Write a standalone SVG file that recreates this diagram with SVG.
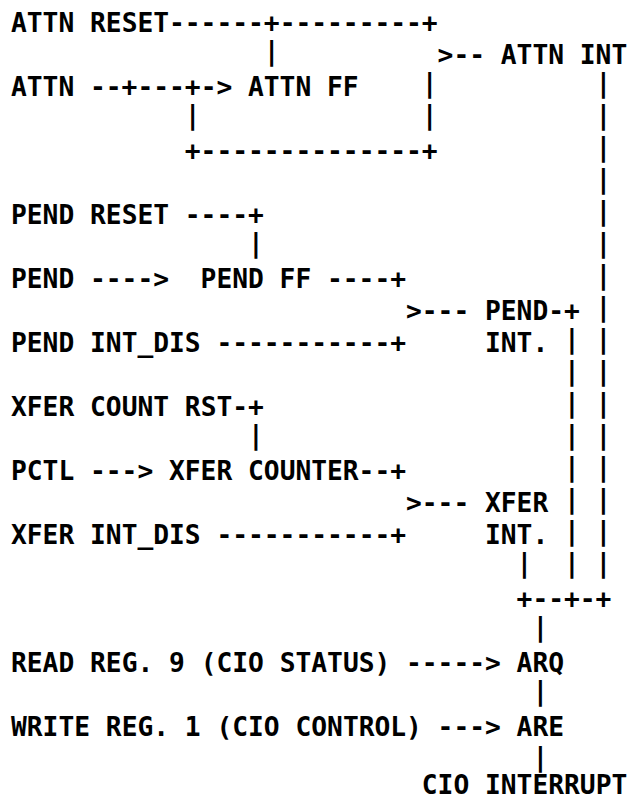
<svg xmlns="http://www.w3.org/2000/svg" width="631" height="799" viewBox="0 0 631 799" xml:space="preserve">
<style>
text{font-family:"DejaVu Sans Mono","Liberation Mono",monospace;font-weight:bold;font-size:26.25px;fill:#000;white-space:pre}
</style>
<rect width="631" height="799" fill="#fff"/>
<g id="connectors">
<text x="169" y="31.6">------+---------+</text>
<text x="263.8" y="60">|</text>
<text x="437.6" y="63.6">&gt;--</text>
<text x="90" y="95.6">--+---+-&gt;</text>
<text x="421.8" y="92">|</text>
<text x="184.8" y="124">|</text>
<text x="421.8" y="124">|</text>
<text x="184.8" y="159.6">+--------------+</text>
<text x="184.8" y="223.6">----+</text>
<text x="248" y="252">|</text>
<text x="90" y="287.6">----&gt;</text>
<text x="327" y="287.6">----+</text>
<text x="406" y="319.6">&gt;---</text>
<text x="548.2" y="319.6">-+</text>
<text x="216.4" y="351.6">-----------+</text>
<text x="232.2" y="415.6">-+</text>
<text x="248" y="444">|</text>
<text x="90" y="479.6">---&gt;</text>
<text x="358.6" y="479.6">--+</text>
<text x="406" y="511.6">&gt;---</text>
<text x="216.4" y="543.6">-----------+</text>
<text x="516.6" y="572">|</text>
<text x="516.6" y="607.6">+--+-+</text>
<text x="532.4" y="636">|</text>
<text x="406" y="671.6">-----&gt;</text>
<text x="532.4" y="700">|</text>
<text x="437.6" y="735.6">---&gt;</text>
<text x="532.4" y="766">|</text>
<g id="bus-attn">
<text x="595.6" y="92">|</text><text x="595.6" y="124">|</text><text x="595.6" y="156">|</text><text x="595.6" y="188">|</text>
<text x="595.6" y="220">|</text><text x="595.6" y="252">|</text><text x="595.6" y="284">|</text><text x="595.6" y="316">|</text>
<text x="595.6" y="348">|</text><text x="595.6" y="380">|</text><text x="595.6" y="412">|</text><text x="595.6" y="444">|</text>
<text x="595.6" y="476">|</text><text x="595.6" y="508">|</text><text x="595.6" y="540">|</text><text x="595.6" y="572">|</text>
</g>
<g id="bus-pend">
<text x="564" y="348">|</text><text x="564" y="380">|</text><text x="564" y="412">|</text><text x="564" y="444">|</text>
<text x="564" y="476">|</text><text x="564" y="508">|</text><text x="564" y="540">|</text><text x="564" y="572">|</text>
</g>
</g>
<g id="attn-reset"><text x="11" y="31.6">ATTN RESET</text></g>
<g id="attn-int"><text x="500.8" y="63.6">ATTN INT</text></g>
<g id="attn"><text x="11" y="95.6">ATTN</text></g>
<g id="attn-ff"><text x="248" y="95.6">ATTN FF</text></g>
<g id="pend-reset"><text x="11" y="223.6">PEND RESET</text></g>
<g id="pend"><text x="11" y="287.6">PEND</text></g>
<g id="pend-ff"><text x="200.6" y="287.6">PEND FF</text></g>
<g id="pend-int"><text x="485" y="319.6">PEND</text><text x="485" y="351.6">INT.</text></g>
<g id="pend-int-dis"><text x="11" y="351.6">PEND INT_DIS</text></g>
<g id="xfer-count-rst"><text x="11" y="415.6">XFER COUNT RST</text></g>
<g id="pctl"><text x="11" y="479.6">PCTL</text></g>
<g id="xfer-counter"><text x="169" y="479.6">XFER COUNTER</text></g>
<g id="xfer-int"><text x="485" y="511.6">XFER</text><text x="485" y="543.6">INT.</text></g>
<g id="xfer-int-dis"><text x="11" y="543.6">XFER INT_DIS</text></g>
<g id="read-reg"><text x="11" y="671.6">READ REG. 9 (CIO STATUS)</text></g>
<g id="arq"><text x="516.6" y="671.6">ARQ</text></g>
<g id="write-reg"><text x="11" y="735.6">WRITE REG. 1 (CIO CONTROL)</text></g>
<g id="are"><text x="516.6" y="735.6">ARE</text></g>
<g id="cio-interrupt"><text x="421.8" y="794">CIO INTERRUPT</text></g>
</svg>
